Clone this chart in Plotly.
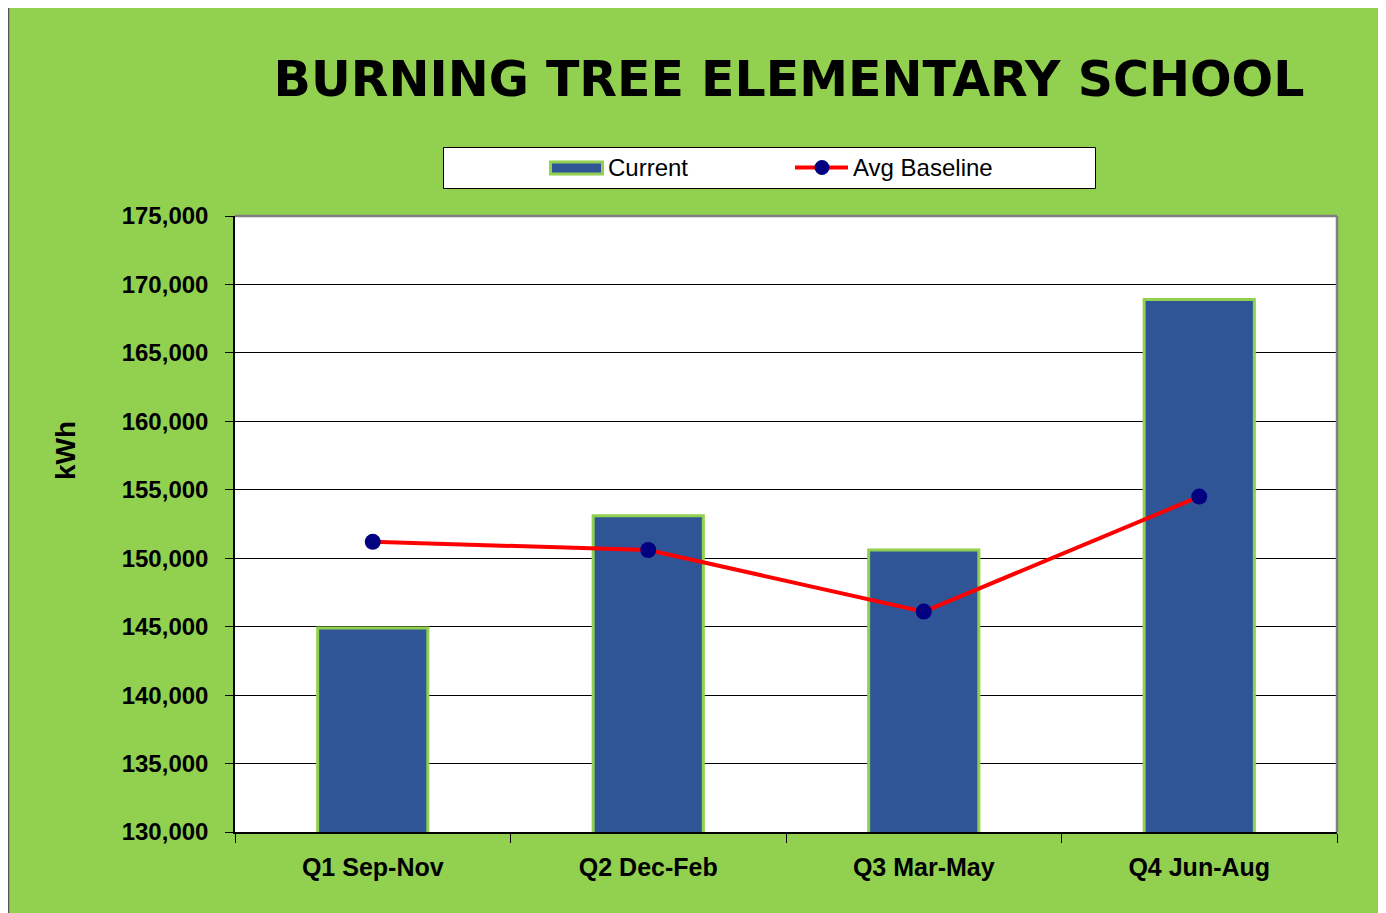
import plotly.graph_objects as go

quarters = ['Q1 Sep-Nov', 'Q2 Dec-Feb', 'Q3 Mar-May', 'Q4 Jun-Aug']
current = [144900, 153100, 150600, 168900]
avg_baseline = [151200, 150600, 146100, 154500]

green = '#92D050'
blue = '#2F5597'
arial = 'Liberation Sans, Arial, sans-serif'

fig = go.Figure()
fig.add_trace(go.Bar(
    x=quarters, y=current, name='Current', width=0.4,
    marker=dict(color=blue, line=dict(color=green, width=3)),
))
fig.add_trace(go.Scatter(
    x=quarters, y=avg_baseline, name='Avg Baseline', mode='lines+markers',
    line=dict(color='#FF0000', width=4),
    marker=dict(color='#000080', size=16),
))

# plot area on screen: x 235..1337, y 216..832 (page has 8px body margin)
pw, ph = 1102, 616


def px_x(v):
    return (v - 235) / pw


def px_y(v):
    return (832 - v) / ph


def rect(x0, x1, y0, y1, **kw):
    return dict(type='rect', xref='paper', yref='paper',
                x0=px_x(x0), x1=px_x(x1), y0=px_y(y1), y1=px_y(y0), **kw)


shapes = [
    # white area outside the chart border
    rect(-10, 8, -10, 930, fillcolor='white', line=dict(width=0), layer='below'),
    rect(-10, 1400, -10, 5, fillcolor='white', line=dict(width=0), layer='below'),
    rect(1381, 1400, -10, 930, fillcolor='white', line=dict(width=0), layer='below'),
    # chart border
    rect(8.5, 1381.5, 5.5, 940, line=dict(color='#555555', width=1.5),
         fillcolor='rgba(0,0,0,0)', layer='below'),
    # plot area frame top/right grey
    dict(type='line', xref='paper', yref='paper', x0=0, x1=1, y0=1, y1=1,
         line=dict(color='#808080', width=2.5)),
    dict(type='line', xref='paper', yref='paper', x0=1, x1=1, y0=0, y1=1,
         line=dict(color='#808080', width=2.5)),
    # legend box
    rect(443.5, 1095.5, 147.5, 188.5, fillcolor='white', line=dict(color='black', width=1)),
    rect(550.5, 602.5, 162, 174, fillcolor=blue, line=dict(color=green, width=3)),
    dict(type='line', xref='paper', yref='paper', x0=px_x(795), x1=px_x(848),
         y0=px_y(167.5), y1=px_y(167.5), line=dict(color='#FF0000', width=4)),
    dict(type='circle', xref='paper', yref='paper', x0=px_x(814.5), x1=px_x(829.5),
         y0=px_y(175), y1=px_y(160), fillcolor='#000080', line=dict(width=0)),
]

annotations = [
    dict(text='Current', xref='paper', yref='paper', x=px_x(606), y=px_y(167.5),
         xanchor='left', yanchor='middle', showarrow=False,
         font=dict(family=arial, size=24, color='black')),
    dict(text='Avg Baseline', xref='paper', yref='paper', x=px_x(851), y=px_y(167.5),
         xanchor='left', yanchor='middle', showarrow=False,
         font=dict(family=arial, size=24, color='black')),
    dict(text='<b>kWh</b>', xref='paper', yref='paper', x=px_x(65), y=px_y(451),
         xanchor='center', yanchor='middle', showarrow=False, textangle=-90,
         font=dict(family=arial, size=28, color='black')),
]

fig.update_layout(
    width=1386, height=913,
    margin=dict(l=227, r=57, t=208, b=89),
    paper_bgcolor=green,
    plot_bgcolor='white',
    shapes=shapes,
    annotations=annotations,
    showlegend=False,
    title=dict(
        text='<b>BURNING TREE ELEMENTARY SCHOOL</b>',
        x=px_x(789), xref='paper', xanchor='center',
        y=1 - 71 / 913, yanchor='middle',
        font=dict(family='DejaVu Sans, Arial Black, sans-serif', size=49, color='black'),
    ),
)

fig.update_xaxes(
    showline=True, linecolor='black', linewidth=1.5,
    ticks='outside', tickson='boundaries', ticklen=9, tickcolor='black',
    ticklabelstandoff=12,
    tickfont=dict(family=arial, size=25, color='black', weight='bold'),
    showgrid=False,
)
fig.update_yaxes(
    range=[130000, 175000], dtick=5000, tickformat=',d',
    showline=True, linecolor='black', linewidth=1.5,
    ticks='outside', ticklen=8, tickcolor='black',
    ticklabelstandoff=12,
    tickfont=dict(family=arial, size=24, color='black', weight='bold'),
    showgrid=True, gridcolor='black', gridwidth=1,
)

fig.write_html('out.html')
